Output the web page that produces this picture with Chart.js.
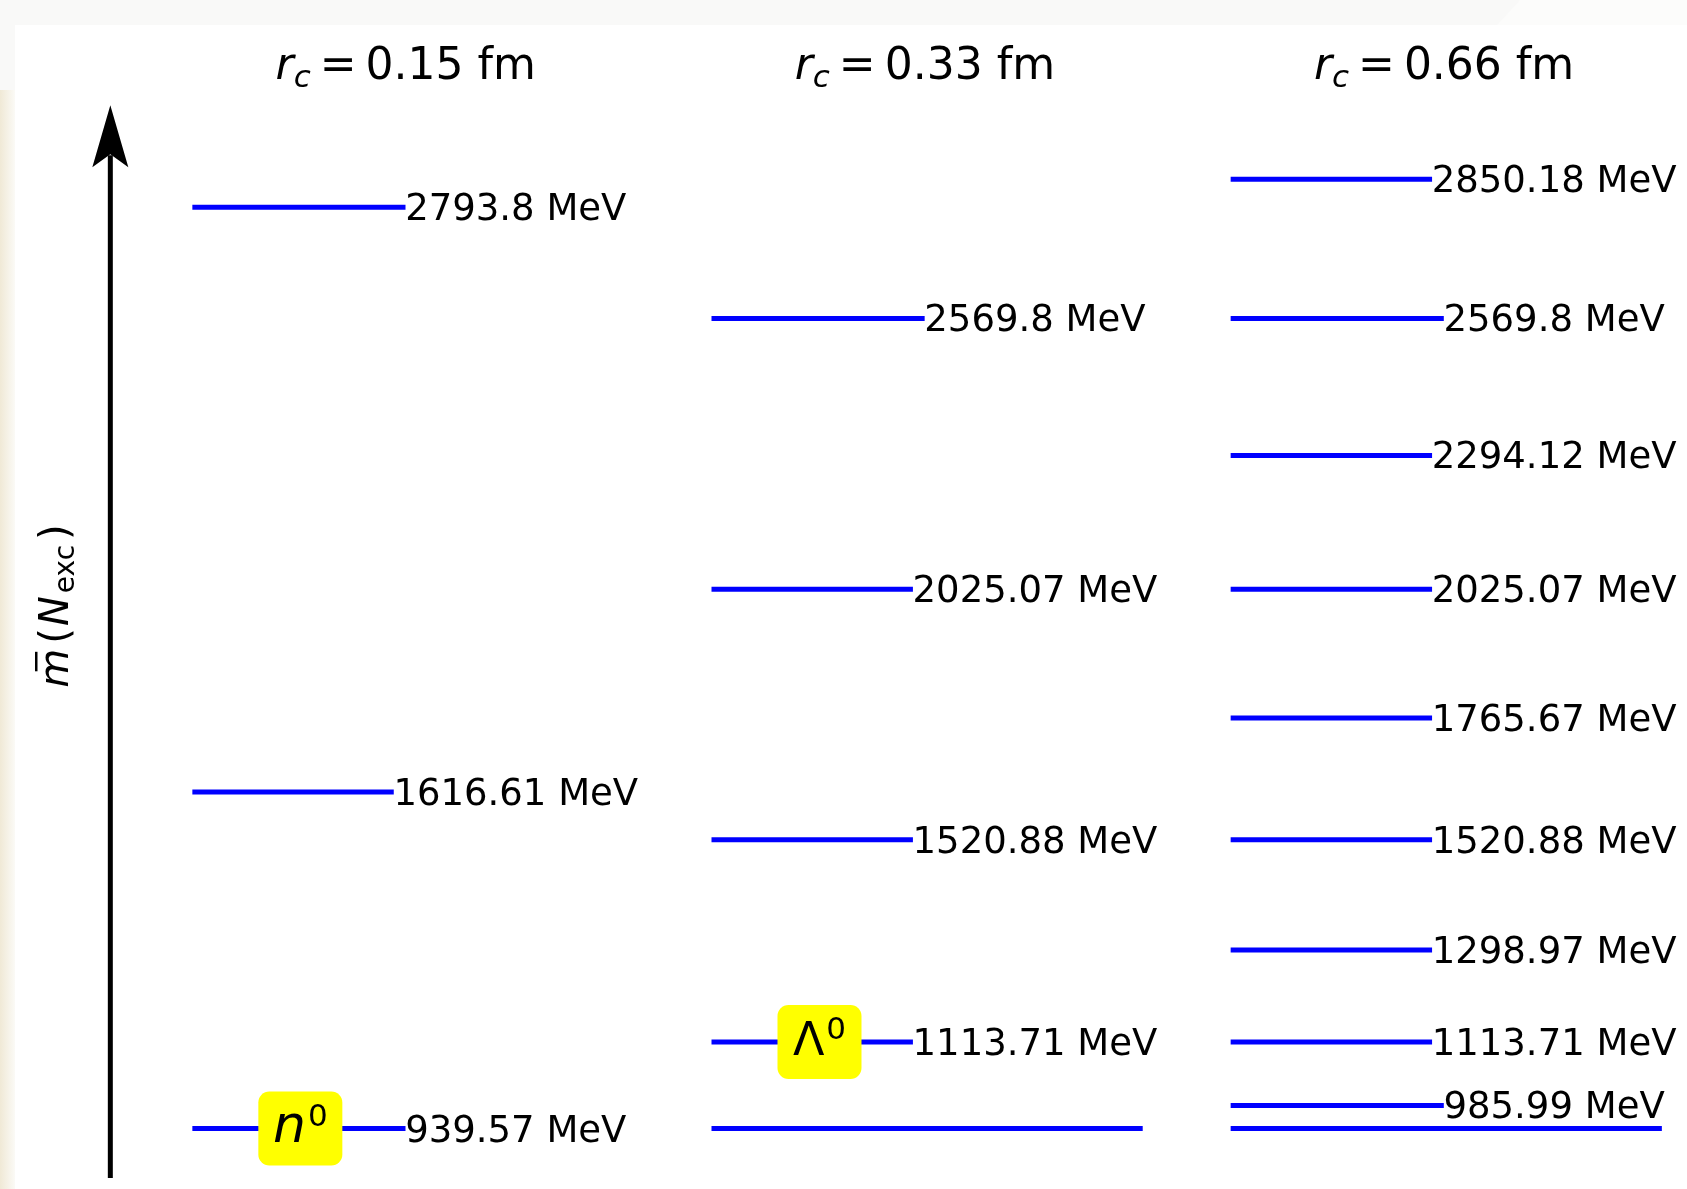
<!DOCTYPE html>
<html>
<head>
<meta charset="utf-8">
<script src="https://cdn.jsdelivr.net/npm/chart.js@4.4.1/dist/chart.umd.min.js"></script>
<style>
  html, body { margin: 0; padding: 0; background: #ffffff; }
  #levels { display: block; }
</style>
</head>
<body>
<canvas id="levels" width="1687" height="1189"></canvas>
<script>
// cutoff radius of each column (fm)
const radii = [0.15, 0.33, 0.66];

// excited-state masses (MeV) per column
const massesA = [939.57, 1616.61, 2793.8];
const massesB = [1113.71, 1520.88, 2025.07, 2569.8];
const massesC = [985.99, 1113.71, 1298.97, 1520.88, 1765.67, 2025.07, 2294.12, 2569.8, 2850.18];

// unlabelled reference level drawn across columns 2 and 3
const baseMass = [null, 939.57, 939.57];

// particle tag per column and the level it sits on
const tagNames = ["n", "Λ", null];
const tagMasses = [939.57, 1113.71, null];

const columnMasses = [massesA, massesB, massesC];

const FONT = "'DejaVu Sans', 'Liberation Sans', sans-serif";
const BLUE = "#0000ff";
const LABEL_POS = 0.623;  // label centre, in column units
const TITLE_POS = 0.411;
const TAG_POS = 0.208;
const BASE_LEN = 0.8306;
const LABEL_FONT = "37px " + FONT;

const datasets = [];
const labelled = [];
columnMasses.forEach((masses, c) => {
  masses.forEach((m) => {
    labelled.push({ col: c, mass: m, ds: datasets.length });
    datasets.push({
      data: [{ x: c, y: m }, { x: c + 0.37, y: m }],
      borderColor: BLUE,
      borderWidth: 5,
      pointRadius: 0,
      fill: false,
    });
  });
  if (baseMass[c] !== null) {
    datasets.push({
      data: [{ x: c, y: baseMass[c] }, { x: c + BASE_LEN, y: baseMass[c] }],
      borderColor: BLUE,
      borderWidth: 5,
      pointRadius: 0,
      fill: false,
    });
  }
});

// draws a run of text pieces starting at x on baseline y
function drawPieces(ctx, pieces, x, y) {
  let cx = x;
  pieces.forEach((p) => {
    if (p.gap) { cx += p.gap; return; }
    ctx.font = p.font;
    ctx.fillText(p.t, cx, y + (p.dy || 0));
    p.x0 = cx;
    p.w = ctx.measureText(p.t).width;
    cx += p.w;
  });
}
function piecesWidth(ctx, pieces) {
  let w = 0;
  pieces.forEach((p) => {
    if (p.gap) { w += p.gap; return; }
    ctx.font = p.font;
    w += ctx.measureText(p.t).width;
  });
  return w;
}

const backdrop = {
  id: "backdrop",
  beforeDraw(chart) {
    const ctx = chart.ctx;
    ctx.save();
    ctx.fillStyle = "#f9f9f8";
    ctx.fillRect(0, 0, chart.width, chart.height);
    ctx.fillStyle = "#fcfcfb";
    ctx.beginPath();
    ctx.moveTo(1520, 0);
    ctx.lineTo(chart.width, 0);
    ctx.lineTo(chart.width, 25);
    ctx.lineTo(1497, 25);
    ctx.closePath();
    ctx.fill();
    ctx.fillStyle = "#ffffff";
    ctx.fillRect(15, 25, chart.width - 15, chart.height - 25);
    const g = ctx.createLinearGradient(0, 0, 15, 0);
    g.addColorStop(0, "#f0e9d6");
    g.addColorStop(1, "#fbfaf6");
    ctx.fillStyle = g;
    ctx.fillRect(0, 90, 15, chart.height - 90);
    ctx.restore();
  },
};

const annotate = {
  id: "annotate",
  afterDatasetsDraw(chart) {
    const ctx = chart.ctx;
    const xs = chart.scales.x;
    const ys = chart.scales.y;
    ctx.save();
    ctx.fillStyle = "#000000";
    ctx.textBaseline = "alphabetic";

    // level labels
    ctx.font = LABEL_FONT;
    ctx.textAlign = "center";
    labelled.forEach((l) => {
      ctx.fillText(l.mass + " MeV", xs.getPixelForValue(l.col + LABEL_POS), ys.getPixelForValue(l.mass) + 13);
    });

    // particle tags
    ctx.textAlign = "left";
    tagNames.forEach((name, c) => {
      if (!name) return;
      const cx = xs.getPixelForValue(c + TAG_POS);
      const cy = ys.getPixelForValue(tagMasses[c]);
      ctx.fillStyle = "#ffff00";
      ctx.beginPath();
      ctx.roundRect(cx - 42, cy - 37, 84, 74, 11);
      ctx.fill();
      ctx.fillStyle = "#000000";
      const main = name === "n"
        ? { t: name, font: "italic 52px " + FONT }
        : { t: name, font: "46px " + FONT };
      const pieces = [main, { gap: 2 }, { t: "0", font: "31px " + FONT, dy: -16 }];
      const w = piecesWidth(ctx, pieces);
      drawPieces(ctx, pieces, cx - w / 2, cy + 13);
    });

    // column titles
    radii.forEach((r, c) => {
      const pieces = [
        { t: "r", font: "italic 44px " + FONT },
        { t: "c", font: "italic 31px " + FONT, dy: 8 },
        { gap: 9 },
        { t: "=", font: "44px " + FONT },
        { gap: 9 },
        { t: r.toFixed(2) + " fm", font: "44px " + FONT },
      ];
      const w = piecesWidth(ctx, pieces);
      drawPieces(ctx, pieces, xs.getPixelForValue(c + TITLE_POS) - w / 2, 79);
    });

    // energy arrow
    const ax = xs.getPixelForValue(-0.158);
    const top = ys.getPixelForValue(2999);
    const bottom = ys.getPixelForValue(840);
    ctx.strokeStyle = "#000000";
    ctx.lineWidth = 5;
    ctx.beginPath();
    ctx.moveTo(ax, bottom);
    ctx.lineTo(ax, top + 50);
    ctx.stroke();
    ctx.beginPath();
    ctx.moveTo(ax, top);
    ctx.lineTo(ax + 18, top + 62);
    ctx.lineTo(ax, top + 49);
    ctx.lineTo(ax - 18, top + 62);
    ctx.closePath();
    ctx.fill();

    // axis title, rotated
    ctx.translate(68, 606);
    ctx.rotate(-Math.PI / 2);
    const lab = [
      { t: "m", font: "italic 40px " + FONT },
      { gap: 5 },
      { t: "(", font: "40px " + FONT },
      { gap: 2 },
      { t: "N", font: "italic 40px " + FONT },
      { gap: 3 },
      { t: "exc", font: "28px " + FONT, dy: 6 },
      { gap: 5 },
      { t: ")", font: "40px " + FONT },
    ];
    const lw = piecesWidth(ctx, lab);
    drawPieces(ctx, lab, -lw / 2, 0);
    const m = lab[0];
    ctx.fillRect(m.x0 + m.w * 0.42, -33, m.w * 0.5, 2.5);
    ctx.restore();
  },
};

const chart = new Chart(document.getElementById("levels"), {
  type: "line",
  data: { datasets },
  options: {
    responsive: false,
    animation: false,
    devicePixelRatio: 1,
    layout: { padding: 0 },
    plugins: { legend: { display: false }, tooltip: { enabled: false } },
    scales: {
      x: { type: "linear", min: -0.3657, max: 2.8742, display: false },
      y: { type: "linear", min: 822.9, max: 3205.7, display: false },
    },
  },
  plugins: [backdrop, annotate],
});

// each labelled level runs up to the left edge of its label
chart.ctx.font = LABEL_FONT;
labelled.forEach((l) => {
  const half = chart.ctx.measureText(l.mass + " MeV").width / 2;
  const left = chart.scales.x.getPixelForValue(l.col + LABEL_POS) - half;
  datasets[l.ds].data[1].x = chart.scales.x.getValueForPixel(left);
});
chart.update("none");
</script>
</body>
</html>
